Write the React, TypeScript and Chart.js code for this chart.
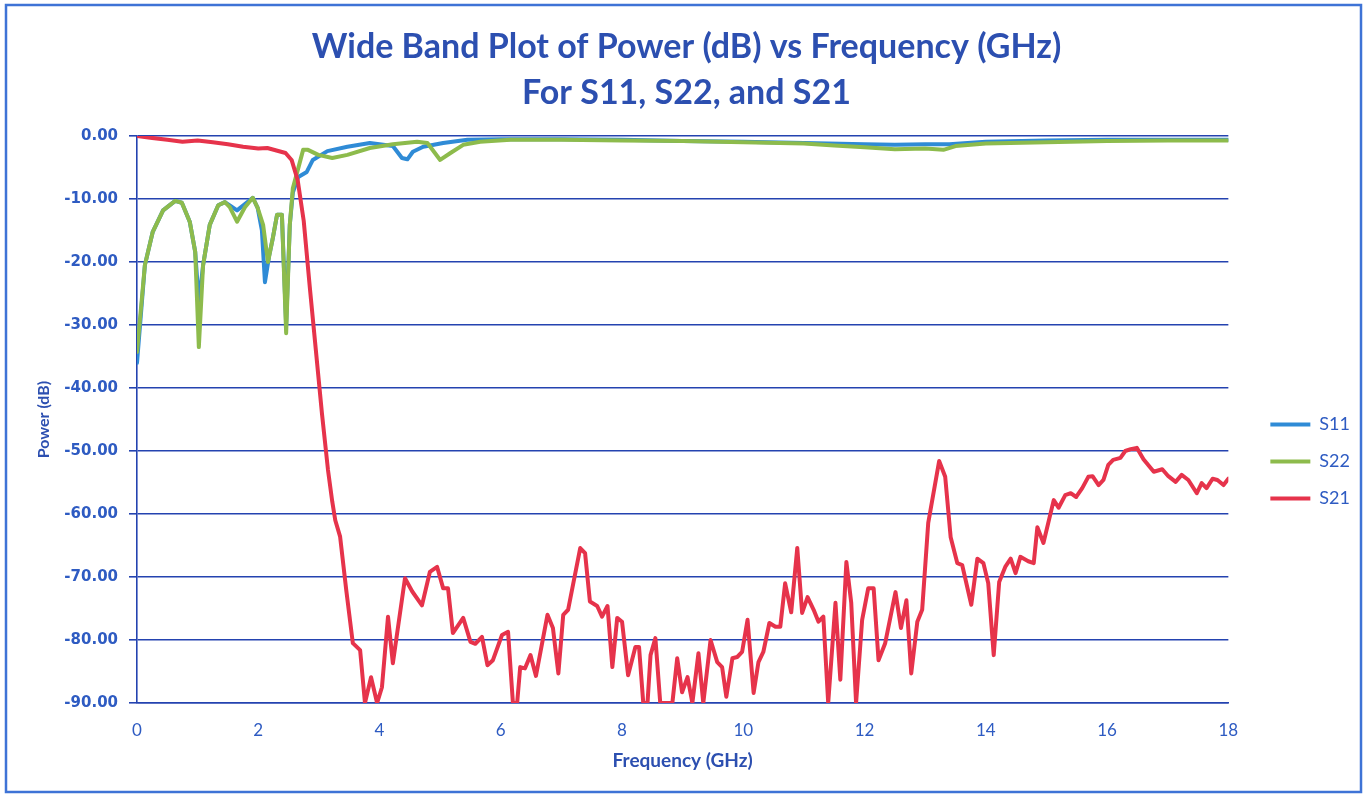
import { useEffect, useRef } from "react";
import { Chart, registerables } from "chart.js";

Chart.register(...registerables);

const chartTitle = ["Wide Band Plot of Power (dB) vs Frequency (GHz)", "For S11, S22, and S21"];
const xTitle = "Frequency (GHz)";
const yTitle = "Power (dB)";
const seriesNames = ["S11", "S22", "S21"];

const s11Freq = [0.0, 0.13, 0.26, 0.43, 0.63, 0.74, 0.87, 0.96, 1.02, 1.09, 1.2, 1.34, 1.45, 1.53, 1.65, 1.78, 1.91, 1.99, 2.06, 2.11, 2.18, 2.24, 2.31, 2.39, 2.46, 2.52, 2.57, 2.66, 2.8, 2.9, 3.14, 3.47, 3.84, 4.22, 4.37, 4.46, 4.55, 4.72, 5.05, 5.45, 6.0, 7.0, 8.0, 9.0, 10.0, 11.0, 12.0, 12.5, 13.0, 13.4, 14.0, 15.0, 16.0, 17.0, 18.0];
const s11Db = [-36.0, -20.5, -15.2, -11.8, -10.3, -10.6, -13.6, -18.4, -26.5, -20.5, -14.1, -11.0, -10.5, -11.0, -11.8, -10.8, -9.8, -11.4, -15.0, -23.2, -19.0, -16.2, -12.5, -12.5, -30.0, -14.1, -9.0, -6.5, -5.7, -3.8, -2.4, -1.7, -1.1, -1.6, -3.5, -3.7, -2.5, -1.7, -1.1, -0.6, -0.5, -0.5, -0.6, -0.8, -0.9, -1.1, -1.3, -1.4, -1.3, -1.3, -0.9, -0.7, -0.6, -0.6, -0.6];

const s22Freq = [0.0, 0.13, 0.26, 0.43, 0.63, 0.74, 0.87, 0.96, 1.02, 1.09, 1.2, 1.34, 1.45, 1.53, 1.65, 1.78, 1.91, 1.99, 2.08, 2.16, 2.24, 2.31, 2.39, 2.46, 2.52, 2.57, 2.66, 2.74, 2.82, 2.99, 3.22, 3.47, 3.84, 4.22, 4.62, 4.79, 5.0, 5.17, 5.38, 5.66, 6.16, 7.0, 8.0, 9.0, 10.0, 11.0, 11.5, 12.0, 12.5, 13.0, 13.3, 13.5, 14.0, 15.0, 16.0, 17.0, 18.0];
const s22Db = [-34.3, -20.5, -15.2, -11.8, -10.3, -10.6, -13.6, -18.4, -33.5, -20.5, -14.1, -11.0, -10.5, -11.3, -13.6, -11.3, -9.8, -11.4, -14.1, -20.0, -16.2, -12.5, -12.5, -31.3, -14.1, -8.3, -5.1, -2.2, -2.2, -3.0, -3.5, -3.0, -1.9, -1.3, -0.9, -1.1, -3.8, -2.7, -1.4, -0.9, -0.6, -0.6, -0.7, -0.8, -1.0, -1.2, -1.5, -1.8, -2.1, -2.0, -2.2, -1.6, -1.2, -1.0, -0.8, -0.7, -0.7];

const s21Freq = [0.0, 0.25, 0.5, 0.75, 1.0, 1.25, 1.5, 1.75, 2.0, 2.15, 2.3, 2.45, 2.55, 2.65, 2.75, 2.85, 2.95, 3.05, 3.15, 3.22, 3.27, 3.35, 3.45, 3.56, 3.68, 3.76, 3.86, 3.96, 4.04, 4.14, 4.22, 4.42, 4.54, 4.7, 4.83, 4.95, 5.05, 5.13, 5.21, 5.38, 5.5, 5.58, 5.69, 5.78, 5.87, 6.02, 6.12, 6.2, 6.27, 6.32, 6.4, 6.49, 6.58, 6.77, 6.86, 6.95, 7.03, 7.11, 7.31, 7.39, 7.47, 7.59, 7.67, 7.76, 7.84, 7.92, 8.0, 8.1, 8.22, 8.28, 8.35, 8.42, 8.47, 8.55, 8.63, 8.83, 8.91, 8.99, 9.08, 9.16, 9.26, 9.34, 9.46, 9.57, 9.65, 9.72, 9.82, 9.9, 9.98, 10.07, 10.17, 10.25, 10.33, 10.43, 10.53, 10.61, 10.69, 10.79, 10.89, 10.97, 11.06, 11.16, 11.24, 11.32, 11.4, 11.52, 11.6, 11.7, 11.78, 11.86, 11.96, 12.06, 12.15, 12.23, 12.34, 12.51, 12.6, 12.69, 12.77, 12.87, 12.95, 13.05, 13.23, 13.33, 13.42, 13.53, 13.61, 13.76, 13.86, 13.96, 14.04, 14.13, 14.22, 14.32, 14.41, 14.49, 14.57, 14.7, 14.79, 14.85, 14.95, 15.12, 15.2, 15.31, 15.4, 15.49, 15.59, 15.69, 15.76, 15.86, 15.94, 16.02, 16.1, 16.22, 16.3, 16.39, 16.49, 16.6, 16.77, 16.91, 17.01, 17.13, 17.23, 17.34, 17.48, 17.56, 17.64, 17.74, 17.82, 17.92, 18.0];
const s21Db = [0.0, -0.3, -0.6, -0.9, -0.7, -1.0, -1.3, -1.7, -2.0, -1.9, -2.3, -2.7, -3.8, -7.0, -13.5, -24.0, -34.0, -44.0, -53.0, -58.0, -61.0, -63.6, -72.0, -80.5, -81.6, -90.0, -85.9, -90.0, -87.5, -76.3, -83.7, -70.2, -72.3, -74.5, -69.2, -68.4, -71.8, -71.8, -78.9, -76.5, -80.3, -80.6, -79.5, -84.0, -83.2, -79.2, -78.7, -90.0, -90.0, -84.3, -84.5, -82.4, -85.7, -76.0, -78.1, -85.3, -76.0, -75.2, -65.4, -66.2, -73.9, -74.6, -76.3, -74.6, -84.3, -76.5, -77.1, -85.6, -81.1, -81.1, -90.0, -90.0, -82.4, -79.7, -90.0, -90.0, -82.9, -88.3, -85.9, -90.0, -82.1, -90.0, -80.0, -83.5, -84.3, -89.0, -82.9, -82.7, -81.9, -76.8, -88.4, -83.5, -81.9, -77.3, -77.9, -77.9, -71.0, -75.6, -65.4, -75.7, -73.2, -75.2, -77.1, -76.3, -90.0, -74.1, -86.3, -67.6, -74.1, -90.0, -76.8, -71.8, -71.8, -83.2, -80.5, -72.4, -78.1, -73.7, -85.3, -77.1, -75.2, -61.4, -51.6, -54.1, -63.7, -67.8, -68.1, -74.4, -67.1, -67.8, -71.0, -82.4, -70.8, -68.4, -67.1, -69.4, -66.8, -67.5, -67.8, -62.1, -64.6, -57.8, -59.0, -57.0, -56.7, -57.3, -55.9, -54.1, -54.0, -55.4, -54.6, -52.2, -51.4, -51.1, -50.0, -49.7, -49.5, -51.3, -53.3, -52.9, -54.0, -54.9, -53.8, -54.6, -56.7, -55.1, -55.9, -54.4, -54.6, -55.4, -54.4];

const COL_S11 = "#2F8BD6";
const COL_S22 = "#8DBB4C";
const COL_S21 = "#E6334B";
const TEXT_BLUE = "#2C4FB0";
const TICK_BLUE = "#2E5BC2";
const GRID_BLUE = "#2443B0";

const toPoints = (f: number[], v: number[]) => f.map((x, i) => ({ x, y: v[i] }));

export default function App() {
  const ref = useRef<HTMLCanvasElement>(null);

  useEffect(() => {
    if (!ref.current) return;

    const framePlugin = {
      id: "frame",
      beforeDraw(chart: any) {
        const ctx = chart.ctx;
        ctx.save();
        ctx.fillStyle = "#ffffff";
        ctx.fillRect(0, 0, chart.width, chart.height);
        ctx.strokeStyle = "#3E73D6";
        ctx.lineWidth = 2.5;
        ctx.strokeRect(6, 5, chart.width - 12, chart.height - 8);
        ctx.restore();
      },
    };

    const boxPlace = {
      id: "boxPlace",
      afterLayout(chart: any) {
        const lg = chart.legend;
        if (lg) {
          lg.left += 23;
          lg.right += 23;
          lg.top += 74;
          lg.bottom += 74;
        }
        const tb = chart.titleBlock;
        if (tb) {
          tb.left += 13;
          tb.right += 13;
        }
      },
    };

    const mk = (label: string, f: number[], v: number[], color: string, order: number) => ({
      label,
      data: toPoints(f, v),
      borderColor: color,
      backgroundColor: color,
      borderWidth: 4,
      pointRadius: 0,
      pointHoverRadius: 0,
      tension: 0,
      borderJoinStyle: "round" as const,
      borderCapStyle: "round" as const,
      order,
    });

    const chart = new Chart(ref.current, {
      type: "line",
      data: {
        datasets: [
          mk(seriesNames[0], s11Freq, s11Db, COL_S11, 2),
          mk(seriesNames[1], s22Freq, s22Db, COL_S22, 1),
          mk(seriesNames[2], s21Freq, s21Db, COL_S21, 0),
        ],
      },
      options: {
        responsive: false,
        animation: false,
        devicePixelRatio: 1,
        layout: { padding: { left: 10, right: 30, top: 0, bottom: 20 } },
        plugins: {
          title: {
            display: true,
            text: chartTitle,
            color: TEXT_BLUE,
            font: { family: "Lato", size: 34, weight: "bold", lineHeight: 1.353 },
            padding: { top: 24, bottom: 20 },
          },
          legend: {
            display: true,
            position: "right",
            align: "center",
            labels: {
              boxWidth: 40,
              boxHeight: 4,
              padding: 19,
              color: TICK_BLUE,
              font: { family: "Lato", size: 18 },
              sort: (a: any, b: any) => a.datasetIndex - b.datasetIndex,
              generateLabels: (c: any) =>
                (Chart.defaults.plugins.legend.labels.generateLabels as any)(c).map((it: any) => ({
                  ...it,
                  lineWidth: 0,
                  fillStyle: it.strokeStyle,
                })),
            },
          },
          tooltip: { enabled: false },
        },
        scales: {
          x: {
            type: "linear",
            min: 0,
            max: 18,
            afterFit: (s: any) => {
              s.height = 72;
            },
            ticks: {
              stepSize: 2,
              padding: 17,
              color: TICK_BLUE,
              font: { family: "Lato", size: 17 },
              maxRotation: 0,
            },
            grid: { display: false, drawTicks: false },
            border: { display: true, color: GRID_BLUE, width: 1.5 },
            title: {
              display: true,
              text: xTitle,
              color: TEXT_BLUE,
              font: { family: "Lato", size: 19, weight: "bold" },
              padding: { top: 0, bottom: 3 },
            },
          },
          y: {
            type: "linear",
            min: -90,
            max: 0,
            afterFit: (s: any) => {
              s.width = 127;
            },
            ticks: {
              stepSize: 10,
              padding: 11,
              color: TICK_BLUE,
              font: { family: "DejaVu Sans", size: 15, weight: "bold" },
              callback: (v: any) => Number(v).toFixed(2),
            },
            grid: {
              color: GRID_BLUE,
              lineWidth: 1.6,
              drawTicks: true,
              tickLength: 8,
            },
            border: { display: true, color: GRID_BLUE, width: 1.6 },
            title: {
              display: true,
              text: yTitle,
              color: TEXT_BLUE,
              font: { family: "Lato", size: 16, weight: "bold" },
              padding: { top: 24, bottom: 0 },
            },
          },
        },
      },
      plugins: [framePlugin, boxPlace],
    } as any);

    return () => chart.destroy();
  }, []);

  return (
    <div style={{ position: "absolute", left: 0, top: 0, width: 1367, height: 795, background: "#fff" }}>
      <canvas ref={ref} width={1367} height={795} style={{ display: "block" }} />
    </div>
  );
}
